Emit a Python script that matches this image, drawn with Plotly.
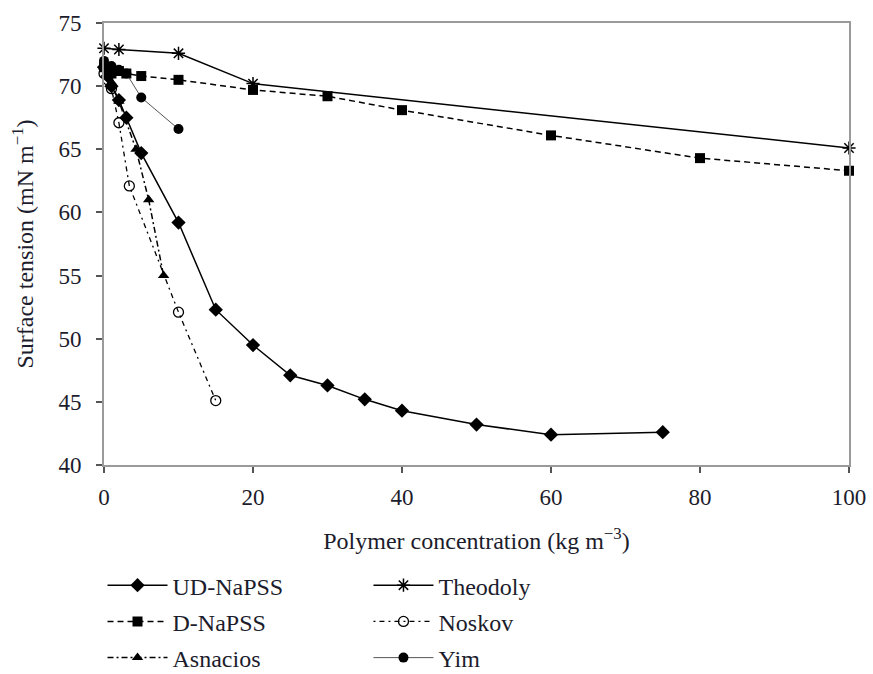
import plotly.graph_objects as go

# ---- data ----
ud_x = [0, 0.5, 1, 2, 3, 5, 10, 15, 20, 25, 30, 35, 40, 50, 60, 75]
ud_y = [71.5, 70.8, 70.0, 68.9, 67.5, 64.7, 59.2, 52.3, 49.5, 47.1, 46.3, 45.2, 44.3, 43.2, 42.4, 42.6]

d_x = [0, 0.5, 1, 2, 3, 5, 10, 20, 30, 40, 60, 80, 100]
d_y = [71.5, 71.2, 71.0, 71.2, 71.0, 70.8, 70.5, 69.7, 69.2, 68.1, 66.1, 64.3, 63.3]

asn_x = [0, 0.5, 1, 2, 4.3, 6, 8]
asn_y = [71.5, 71.0, 70.3, 68.8, 65.0, 61.0, 55.0]

theo_x = [0, 2, 10, 20, 100]
theo_y = [73.0, 72.9, 72.6, 70.2, 65.1]

nos_x = [0, 0.5, 1, 2, 3.4, 10, 15]
nos_y = [71.0, 70.5, 69.8, 67.1, 62.1, 52.1, 45.1]

yim_x = [0, 1, 2, 3, 5, 10]
yim_y = [72.0, 71.6, 71.3, 71.0, 69.1, 66.6]

FONT = "Liberation Serif"
TXT = "#1c1c2c"

fig = go.Figure()

def add(x, y, name, dash, symbol, legend, group, lw=1.5, lcolor="black", msize=10, mline=0):
    fig.add_trace(go.Scatter(
        x=x, y=y, name=name, mode="lines+markers",
        line=dict(color=lcolor, width=lw, dash=dash),
        marker=dict(symbol=symbol, size=msize, color="black",
                    line=dict(color="black", width=mline)),
        cliponaxis=False, legend=legend, legendgroup=group,
    ))

add(ud_x, ud_y, "UD-NaPSS", "solid", "diamond", "legend", "a", msize=11)
add(d_x, d_y, "D-NaPSS", "6px,4px", "square", "legend", "b", msize=10)
add(asn_x, asn_y, "Asnacios", "6px,3px,2px,3px", "triangle-up", "legend", "c", msize=10)
add(theo_x, theo_y, "Theodoly", "solid", "asterisk-open", "legend2", "d", msize=11, mline=1.5)
add(nos_x, nos_y, "Noskov", "2px,4px,5px,4px", "circle-open", "legend2", "e", lw=1.3, msize=10, mline=1.3)
add(yim_x, yim_y, "Yim", "solid", "circle", "legend2", "f", lw=1, lcolor="#555", msize=10)

axis_common = dict(
    showline=True, linecolor="#9a9a9a", linewidth=2, mirror=True,
    ticks="outside", tickcolor="#555", ticklen=6, tickwidth=1.5,
    showgrid=False, zeroline=False, automargin=False,
    tickfont=dict(family=FONT, size=23, color=TXT),
)

leg_common = dict(
    yanchor="top", xanchor="left", orientation="v",
    traceorder="grouped", tracegroupgap=2, itemwidth=60,
    font=dict(family=FONT, size=24, color=TXT), bgcolor="rgba(0,0,0,0)",
)

fig.update_layout(
    width=873, height=674,
    margin=dict(l=104, r=24, t=23, b=209, autoexpand=False),
    paper_bgcolor="white", plot_bgcolor="white",
    font=dict(family=FONT, color=TXT, size=22),
    xaxis=dict(range=[0, 100], tickvals=[0, 20, 40, 60, 80, 100],
               ticklabelstandoff=4,
               title=dict(text="Polymer concentration (kg m<sup>−3</sup>)",
                          font=dict(family=FONT, size=24, color=TXT), standoff=24),
               **axis_common),
    yaxis=dict(range=[40, 75], tickvals=[40, 45, 50, 55, 60, 65, 70, 75],
               ticklabelstandoff=10,
               title=dict(text="Surface tension (mN m<sup>−1</sup>)",
                          font=dict(family=FONT, size=24, color=TXT), standoff=18),
               **axis_common),
    legend=dict(x=-0.002, y=-0.222, **leg_common),
    legend2=dict(x=0.355, y=-0.222, **leg_common),
)

fig.write_html("out.html")
